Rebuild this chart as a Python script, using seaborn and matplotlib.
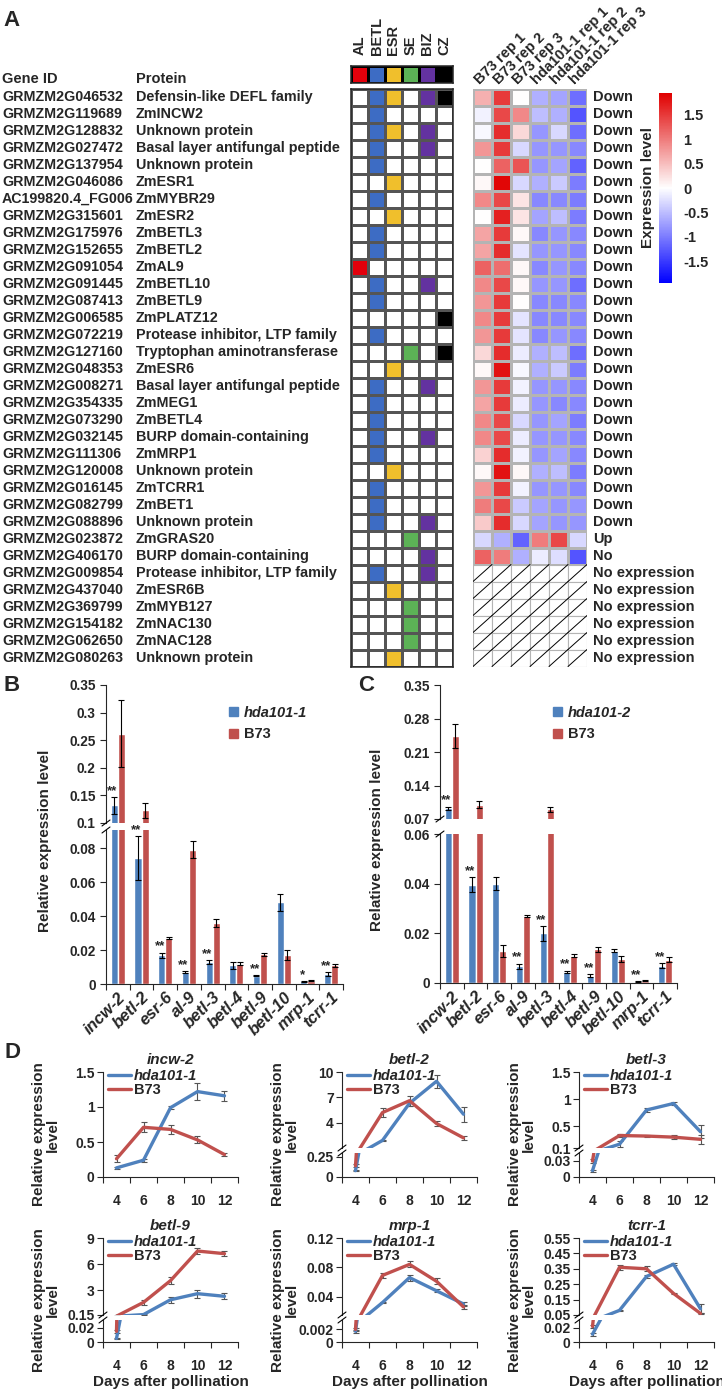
import numpy as np
import pandas as pd
import matplotlib
matplotlib.use('Agg')
import matplotlib.pyplot as plt
from matplotlib.colors import ListedColormap, LinearSegmentedColormap
from matplotlib.patches import Patch, Rectangle
from matplotlib.lines import Line2D
import seaborn as sns

# ---------------- panel A data ----------------
gene_ids = ['GRMZM2G046532', 'GRMZM2G119689', 'GRMZM2G128832', 'GRMZM2G027472',
            'GRMZM2G137954', 'GRMZM2G046086', 'AC199820.4_FG006', 'GRMZM2G315601',
            'GRMZM2G175976', 'GRMZM2G152655', 'GRMZM2G091054', 'GRMZM2G091445',
            'GRMZM2G087413', 'GRMZM2G006585', 'GRMZM2G072219', 'GRMZM2G127160',
            'GRMZM2G048353', 'GRMZM2G008271', 'GRMZM2G354335', 'GRMZM2G073290',
            'GRMZM2G032145', 'GRMZM2G111306', 'GRMZM2G120008', 'GRMZM2G016145',
            'GRMZM2G082799', 'GRMZM2G088896', 'GRMZM2G023872', 'GRMZM2G406170',
            'GRMZM2G009854', 'GRMZM2G437040', 'GRMZM2G369799', 'GRMZM2G154182',
            'GRMZM2G062650', 'GRMZM2G080263']
proteins = ['Defensin-like DEFL family', 'ZmINCW2', 'Unknown protein',
            'Basal layer antifungal peptide', 'Unknown protein', 'ZmESR1', 'ZmMYBR29',
            'ZmESR2', 'ZmBETL3', 'ZmBETL2', 'ZmAL9', 'ZmBETL10', 'ZmBETL9', 'ZmPLATZ12',
            'Protease inhibitor, LTP family', 'Tryptophan aminotransferase', 'ZmESR6',
            'Basal layer antifungal peptide', 'ZmMEG1', 'ZmBETL4', 'BURP domain-containing',
            'ZmMRP1', 'Unknown protein', 'ZmTCRR1', 'ZmBET1', 'Unknown protein', 'ZmGRAS20',
            'BURP domain-containing', 'Protease inhibitor, LTP family', 'ZmESR6B',
            'ZmMYB127', 'ZmNAC130', 'ZmNAC128', 'Unknown protein']
tissues = ['AL', 'BETL', 'ESR', 'SE', 'BIZ', 'CZ']
tissue_colors = ['#e3000b', '#3d6cc4', '#f0bf2c', '#5cb256', '#6332a0', '#000000']
tissue_hits = ['BETL ESR BIZ CZ', 'BETL', 'BETL ESR BIZ', 'BETL BIZ', 'BETL', 'ESR', 'BETL',
               'ESR', 'BETL', 'BETL', 'AL', 'BETL BIZ', 'BETL', 'CZ', 'BETL', 'SE CZ', 'ESR',
               'BETL BIZ', 'BETL', 'BETL', 'BETL BIZ', 'BETL', 'ESR', 'BETL', 'BETL',
               'BETL BIZ', 'SE', 'BIZ', 'BETL BIZ', 'ESR', 'SE', 'SE', 'SE', 'ESR']
samples = ['B73 rep 1', 'B73 rep 2', 'B73 rep 3',
           'hda101-1 rep 1', 'hda101-1 rep 2', 'hda101-1 rep 3']
nan = np.nan
expr = [[0.6, 1.5, 0.0, -0.6, -0.7, -1.1],
        [-0.1, 1.4, 0.9, -0.5, -0.6, -1.3],
        [-0.05, 1.6, 0.3, -0.8, -0.3, -1.1],
        [0.8, 1.5, -0.3, -0.8, -0.8, -0.9],
        [0.0, 1.2, 1.3, -0.8, -0.7, -1.2],
        [0.05, 1.9, -0.3, -0.6, -0.4, -1.0],
        [0.9, 1.4, 0.2, -0.9, -0.9, -1.0],
        [0.0, 1.7, 0.2, -0.7, -0.5, -1.0],
        [0.7, 1.5, 0.05, -0.9, -0.8, -0.9],
        [0.7, 1.6, -0.2, -0.8, -0.8, -0.9],
        [1.2, 1.1, 0.05, -0.9, -0.8, -0.9],
        [0.9, 1.4, 0.05, -0.8, -0.8, -1.1],
        [0.8, 1.5, 0.0, -0.9, -0.9, -0.9],
        [0.9, 1.5, -0.2, -0.9, -0.9, -0.9],
        [0.8, 1.5, -0.2, -0.9, -0.8, -0.9],
        [0.3, 1.6, -0.15, -0.6, -0.5, -1.1],
        [0.05, 1.8, -0.05, -0.6, -0.4, -1.0],
        [0.8, 1.5, -0.1, -0.8, -0.8, -0.9],
        [0.7, 1.5, -0.15, -0.8, -0.9, -0.9],
        [0.9, 1.4, -0.3, -0.8, -0.7, -1.0],
        [0.9, 1.4, -0.15, -0.8, -0.8, -0.9],
        [0.35, 1.6, -0.1, -0.8, -0.7, -0.9],
        [0.05, 1.8, 0.05, -0.6, -0.5, -1.0],
        [0.8, 1.5, -0.1, -0.8, -0.8, -0.9],
        [1.0, 1.4, -0.4, -0.7, -0.8, -0.8],
        [0.4, 1.6, -0.3, -0.7, -0.8, -0.8],
        [-0.3, -0.6, -1.2, 1.0, 1.4, -0.3],
        [1.2, 1.0, -0.6, -0.15, -0.25, -1.3],
        [nan] * 6, [nan] * 6, [nan] * 6, [nan] * 6, [nan] * 6, [nan] * 6]
regulation = ['Down'] * 26 + ['Up', 'No'] + ['No expression'] * 6

# ---------------- panels B / C data ----------------
qpcr_genes = ['incw-2', 'betl-2', 'esr-6', 'al-9', 'betl-3', 'betl-4',
              'betl-9', 'betl-10', 'mrp-1', 'tcrr-1']
b_hda = [0.132, 0.074, 0.017, 0.007, 0.013, 0.011, 0.005, 0.048, 0.0015, 0.006]
b_hda_err = [0.015, 0.013, 0.0015, 0.0005, 0.0012, 0.002, 0.0004, 0.005, 0.0003, 0.001]
b_b73 = [0.262, 0.123, 0.027, 0.079, 0.036, 0.012, 0.0175, 0.017, 0.002, 0.011]
b_b73_err = [0.06, 0.014, 0.0005, 0.005, 0.0025, 0.001, 0.0008, 0.0028, 0.0002, 0.0008]
b_sig = ['**', '**', '**', '**', '**', '', '**', '', '*', '**']

c_hda = [0.092, 0.0395, 0.040, 0.0068, 0.020, 0.0045, 0.003, 0.013, 0.0005, 0.007]
c_hda_err = [0.004, 0.003, 0.0025, 0.001, 0.003, 0.0005, 0.0005, 0.0006, 0.0002, 0.001]
c_b73 = [0.243, 0.100, 0.013, 0.027, 0.090, 0.011, 0.0135, 0.0097, 0.001, 0.0093]
c_b73_err = [0.025, 0.008, 0.0025, 0.0005, 0.005, 0.0005, 0.001, 0.0012, 0.0001, 0.001]
c_sig = ['**', '**', '', '**', '**', '**', '**', '', '**', '**']

# ---------------- panel D data ----------------
days = [4, 6, 8, 10, 12]
incw2_hda = [0.13, 0.24, 0.99, 1.22, 1.16]
incw2_hda_err = [0.02, 0.02, 0.02, 0.12, 0.07]
incw2_b73 = [0.26, 0.71, 0.68, 0.53, 0.32]
incw2_b73_err = [0.05, 0.07, 0.06, 0.05, 0.02]
betl2_hda = [0.08, 1.9, 6.3, 8.9, 5.0]
betl2_hda_err = [0.01, 0.1, 0.3, 0.8, 0.9]
betl2_b73 = [0.14, 5.2, 6.6, 3.9, 2.2]
betl2_b73_err = [0.02, 0.5, 0.6, 0.3, 0.2]
betl3_hda = [0.012, 0.17, 0.8, 0.92, 0.4]
betl3_hda_err = [0.002, 0.05, 0.03, 0.03, 0.12]
betl3_b73 = [0.03, 0.33, 0.32, 0.30, 0.26]
betl3_b73_err = [0.003, 0.02, 0.02, 0.04, 0.08]
betl9_hda = [0.005, 0.2, 1.9, 2.6, 2.3]
betl9_hda_err = [0.001, 0.05, 0.35, 0.45, 0.35]
betl9_b73 = [0.015, 1.6, 4.1, 7.5, 7.2]
betl9_b73_err = [0.002, 0.3, 0.4, 0.35, 0.3]
mrp1_hda = [0.0017, 0.032, 0.066, 0.048, 0.030]
mrp1_hda_err = [0.0002, 0.001, 0.004, 0.002, 0.003]
mrp1_b73 = [0.002, 0.069, 0.084, 0.061, 0.026]
mrp1_b73_err = [0.0002, 0.003, 0.004, 0.004, 0.003]
tcrr1_hda = [0.011, 0.08, 0.30, 0.38, 0.09]
tcrr1_hda_err = [0.002, 0.005, 0.01, 0.005, 0.03]
tcrr1_b73 = [0.022, 0.36, 0.35, 0.19, 0.06]
tcrr1_b73_err = [0.002, 0.015, 0.015, 0.005, 0.005]

BLUE = '#4f81bd'
RED = '#c0504d'

sns.set_style('ticks')
plt.rcParams['font.family'] = ['Liberation Sans', 'DejaVu Sans']
plt.rcParams['font.weight'] = 'bold'
plt.rcParams['axes.labelweight'] = 'bold'
plt.rcParams['axes.linewidth'] = 0.8

W, H = 722, 1394
fig = plt.figure(figsize=(W / 100, H / 100), dpi=100)


def px_axes(x0, y0, x1, y1):
    return fig.add_axes([x0 / W, 1 - y1 / H, (x1 - x0) / W, (y1 - y0) / H])


def fmt(v):
    return f'{v:g}'


def slash(x, y):
    fig.add_artist(Line2D([(x - 4) / W, (x + 4) / W], [1 - (y + 3) / H, 1 - (y - 3) / H],
                          color='black', lw=0.8))


# ================= panel A =================
n = len(gene_ids)
top, rh = 88.5, 17
bot = top + n * rh

ax_txt = px_axes(0, top, 350, bot)
ax_txt.set_xlim(0, 350)
ax_txt.set_ylim(n, 0)
ax_txt.axis('off')
for i in range(n):
    ax_txt.text(2, i + 0.5, gene_ids[i], va='center', fontsize=10.3)
    ax_txt.text(136, i + 0.5, proteins[i], va='center', fontsize=10.4)
ax_txt.text(2, -0.55, 'Gene ID', va='center', fontsize=10.5)
ax_txt.text(136, -0.55, 'Protein', va='center', fontsize=10.5)

cmap_t = ListedColormap(['white'] + tissue_colors)
tissue_mat = np.array([[tissues.index(t) + 1 if t in hits.split() else 0 for t in tissues]
                       for hits in tissue_hits])
ax_t = px_axes(351, top, 453, bot)
sns.heatmap(tissue_mat, cmap=cmap_t, vmin=-0.5, vmax=6.5, cbar=False, linewidths=0.9,
            linecolor='#555555', xticklabels=False, yticklabels=False, ax=ax_t)
for sp in ax_t.spines.values():
    sp.set_visible(True)
    sp.set_linewidth(1.1)

ax_th = px_axes(351, 66, 453, 83)
sns.heatmap(np.arange(1, 7).reshape(1, 6), cmap=cmap_t, vmin=-0.5, vmax=6.5, cbar=False,
            linewidths=0.9, linecolor='black', xticklabels=tissues, yticklabels=False, ax=ax_th)
for sp in ax_th.spines.values():
    sp.set_visible(True)
    sp.set_linewidth(1.1)
ax_th.xaxis.tick_top()
ax_th.tick_params(axis='x', length=0, pad=8, labelsize=10.5)
plt.setp(ax_th.get_xticklabels(), rotation=90, va='bottom')

# expression heatmap
cmap_e = LinearSegmentedColormap.from_list('bwr2', ['#0000ff', '#ffffff', '#e00000'])
expr_df = pd.DataFrame(expr, columns=samples, index=gene_ids)
ax_h = px_axes(473, top, 587, bot)
cax = px_axes(659, 93, 672, 283)
sns.heatmap(expr_df, cmap=cmap_e, vmin=-1.95, vmax=1.95, linewidths=0.8, linecolor='#b4b4b4',
            xticklabels=samples, yticklabels=False, ax=ax_h, cbar_ax=cax,
            cbar_kws={'ticks': [-1.5, -1, -0.5, 0, 0.5, 1, 1.5]})
ax_h.xaxis.tick_top()
ax_h.tick_params(axis='x', length=0, pad=1, labelsize=10.5)
plt.setp(ax_h.get_xticklabels(), rotation=45, ha='left', rotation_mode='anchor')
for i, row in enumerate(expr):
    for j, v in enumerate(row):
        if np.isnan(v):
            ax_h.add_patch(Rectangle((j, i), 1, 1, facecolor='white', edgecolor='#b4b4b4', lw=0.8))
            ax_h.plot([j, j + 1], [i + 1, i], color='black', lw=0.7)
    ax_h.text(6.3, i + 0.5, regulation[i], va='center', fontsize=10.5, clip_on=False)

cax.yaxis.set_ticks_position('right')
cax.set_yticks([-1.5, -1, -0.5, 0, 0.5, 1, 1.5])
cax.set_yticklabels(['-1.5', '-1', '-0.5', '0', '0.5', '1', '1.5'])
cax.tick_params(length=0, labelsize=10.5, pad=8)
cax.set_ylabel('Expression level', fontsize=11, fontweight='bold', labelpad=3)
cax.yaxis.set_label_position('left')

fig.text(12 / W, 1 - 20 / H, 'A', fontsize=16, ha='center', va='center')


# ================= panels B / C =================
def bar_panel(x0, x1, y_top, y_brk_up, y_brk_lo, y_bot, hda, hda_err, b73, b73_err, sig,
              mut, up_lim, up_ticks, lo_lim, lo_ticks, letter, letter_x, ylab_x, leg_x):
    df = pd.DataFrame({'gene': qpcr_genes * 2,
                       'genotype': [mut] * len(qpcr_genes) + ['B73'] * len(qpcr_genes),
                       'value': hda + b73})
    ax_up = px_axes(x0, y_top, x1, y_brk_up)
    ax_lo = px_axes(x0, y_brk_lo, x1, y_bot)
    for ax in (ax_up, ax_lo):
        sns.barplot(data=df, x='gene', y='value', hue='genotype', palette=[BLUE, RED],
                    width=0.6, saturation=1, errorbar=None, legend=False, ax=ax)
        for cont, errs in zip(ax.containers, (hda_err, b73_err)):
            xs = [p.get_x() + p.get_width() / 2 for p in cont]
            hs = [p.get_height() for p in cont]
            ax.errorbar(xs, hs, yerr=errs, fmt='none', ecolor='black', elinewidth=0.8,
                        capsize=2, capthick=0.8)
        ax.set_xlim(-0.5, len(qpcr_genes) - 0.5)
        ax.set_xlabel('')
        ax.set_ylabel('')
        sns.despine(ax=ax)
        ax.tick_params(axis='y', direction='out', length=4, width=0.8, labelsize=9.8)
    ax_up.set_ylim(*up_lim)
    ax_up.set_yticks(up_ticks)
    ax_up.set_yticklabels([fmt(v) for v in up_ticks])
    ax_up.spines['bottom'].set_visible(False)
    ax_up.tick_params(axis='x', length=0, labelbottom=False)
    ax_lo.set_ylim(*lo_lim)
    ax_lo.set_yticks(lo_ticks)
    ax_lo.set_yticklabels([fmt(v) for v in lo_ticks])
    ax_lo.set_xticks(np.arange(len(qpcr_genes) + 1) - 0.5, minor=True)
    ax_lo.tick_params(axis='x', which='minor', direction='out', length=4, width=0.8)
    ax_lo.tick_params(axis='x', which='major', length=0, pad=4)
    ax_lo.set_xticks(range(len(qpcr_genes)))
    ax_lo.set_xticklabels(qpcr_genes, rotation=45, ha='right', rotation_mode='anchor',
                          fontstyle='italic', fontsize=12)
    # significance stars above the mutant bars
    xs = [p.get_x() + p.get_width() / 2 for p in ax_lo.containers[0]]
    for x, v, e, s in zip(xs, hda, hda_err, sig):
        if not s:
            continue
        ax = ax_up if v + e > lo_lim[1] else ax_lo
        ax.text(x - 0.08, v + e, s, ha='center', va='bottom', fontsize=9.5)
    slash(x0, y_brk_up)
    slash(x0, y_brk_lo)
    fig.text(letter_x / W, 1 - y_top / H, letter, fontsize=16, ha='center', va='center')
    fig.text(ylab_x / W, 1 - (y_top + y_bot + 12) / 2 / H, 'Relative expression level',
             rotation=90, ha='center', va='center', fontsize=11)
    handles = [Patch(color=BLUE), Patch(color=RED)]
    leg = ax_up.legend(handles, [mut, 'B73'], loc='upper left',
                       bbox_to_anchor=(leg_x / W, 1 - 706 / H), bbox_transform=fig.transFigure,
                       frameon=False, fontsize=10.5, handlelength=0.6, handleheight=0.6,
                       handletextpad=0.4, labelspacing=0.5, borderpad=0, borderaxespad=0)
    leg.get_texts()[0].set_fontstyle('italic')


bar_panel(106, 343, 685, 823, 830, 984, b_hda, b_hda_err, b_b73, b_b73_err, b_sig,
          'hda101-1', (0.1, 0.35), [0.1, 0.15, 0.2, 0.25, 0.3, 0.35],
          (0, 0.0906), [0, 0.02, 0.04, 0.06, 0.08], 'B', 12, 45, 229)
bar_panel(440, 677, 685, 819, 834, 983, c_hda, c_hda_err, c_b73, c_b73_err, c_sig,
          'hda101-2', (0.07, 0.35), [0.07, 0.14, 0.21, 0.28, 0.35],
          (0, 0.06), [0, 0.02, 0.04, 0.06], 'C', 366, 377, 553)

# ================= panel D =================
d_genes = ['incw-2', 'betl-2', 'betl-3', 'betl-9', 'mrp-1', 'tcrr-1']
d_series = [(incw2_hda, incw2_hda_err, incw2_b73, incw2_b73_err),
            (betl2_hda, betl2_hda_err, betl2_b73, betl2_b73_err),
            (betl3_hda, betl3_hda_err, betl3_b73, betl3_b73_err),
            (betl9_hda, betl9_hda_err, betl9_b73, betl9_b73_err),
            (mrp1_hda, mrp1_hda_err, mrp1_b73, mrp1_b73_err),
            (tcrr1_hda, tcrr1_hda_err, tcrr1_b73, tcrr1_b73_err)]
d_upper = [(0, 1.5, [0, 0.5, 1, 1.5]), (1, 10, [4, 7, 10]), (0.1, 1.5, [0.1, 0.5, 1, 1.5]),
           (0.15, 9, [0.15, 3, 6, 9]), (0.015, 0.12, [0.04, 0.08, 0.12]),
           (0.05, 0.55, [0.05, 0.15, 0.25, 0.35, 0.45, 0.55])]
d_lower = [None, (0.3, [0, 0.25]), (0.045, [0, 0.03]), (0.031, [0, 0.02]),
           (0.0035, [0, 0.002]), (0.031, [0, 0.02])]
col_x = [103, 342, 579]
row_y = [(1072, 1148, 1153, 1177), (1238, 1315, 1320, 1342)]

fig.text(12 / W, 1 - 1052 / H, 'D', fontsize=16, ha='center', va='center')

for k, gene in enumerate(d_genes):
    r, c = divmod(k, 3)
    x0, x1 = col_x[c], col_x[c] + 135
    yt, yb_up, yt_lo, yb = row_y[r]
    hda, hda_err, b73, b73_err = d_series[k]
    df = pd.DataFrame({'day': days * 2, 'value': hda + b73,
                       'genotype': ['hda101-1'] * len(days) + ['B73'] * len(days)})
    if d_lower[k] is None:
        axes = [px_axes(x0, yt, x1, yb)]
    else:
        axes = [px_axes(x0, yt, x1, yb_up), px_axes(x0, yt_lo, x1, yb)]
    for ax in axes:
        ax.errorbar(days, hda, yerr=hda_err, fmt='none', ecolor='#555555', elinewidth=0.8,
                    capsize=2, capthick=0.8, zorder=1)
        ax.errorbar(days, b73, yerr=b73_err, fmt='none', ecolor='#555555', elinewidth=0.8,
                    capsize=2, capthick=0.8, zorder=1)
        sns.lineplot(data=df, x='day', y='value', hue='genotype', palette=[BLUE, RED],
                     linewidth=2.4, errorbar=None, legend=False, ax=ax)
        ax.set_xlim(3, 13)
        ax.set_xlabel('')
        ax.set_ylabel('')
        sns.despine(ax=ax)
        ax.tick_params(axis='y', direction='out', length=4, width=0.8, labelsize=10, pad=2)
    ax_top, ax_bot = axes[0], axes[-1]
    lo, hi, ticks = d_upper[k]
    ax_top.set_ylim(lo, hi)
    ax_top.set_yticks(ticks)
    ax_top.set_yticklabels([fmt(v) for v in ticks])
    if d_lower[k] is not None:
        lhi, lticks = d_lower[k]
        ax_bot.set_ylim(0, lhi)
        ax_bot.set_yticks(lticks)
        ax_bot.set_yticklabels([fmt(v) for v in lticks])
        ax_top.spines['bottom'].set_visible(False)
        ax_top.tick_params(axis='x', which='both', length=0, labelbottom=False)
        slash(x0, yb_up)
        slash(x0, yt_lo)
    ax_bot.set_xticks(days)
    ax_bot.set_xticklabels([str(d) for d in days])
    ax_bot.set_xticks([3, 5, 7, 9, 11, 13], minor=True)
    ax_bot.tick_params(axis='x', which='major', length=0, pad=12, labelsize=10)
    ax_bot.tick_params(axis='x', which='minor', direction='out', length=4, width=0.8)
    handles = [Line2D([], [], color=BLUE, lw=2.4), Line2D([], [], color=RED, lw=2.4)]
    leg = ax_top.legend(handles, ['hda101-1', 'B73'], loc='upper left',
                        bbox_to_anchor=((x0 + 5) / W, 1 - (yt - 3) / H),
                        bbox_transform=fig.transFigure, frameon=False, fontsize=10.5,
                        handlelength=1.6, handletextpad=0.15, labelspacing=0.0,
                        borderpad=0, borderaxespad=0)
    leg.get_texts()[0].set_fontstyle('italic')
    fig.text((x0 + x1) / 2 / W, 1 - (yt - 12) / H, gene, fontstyle='italic', fontsize=11,
             ha='center', va='center')
    fig.text((x0 - 57) / W, 1 - ((yt + yb) / 2 + 10) / H, 'Relative expression\nlevel',
             rotation=90, ha='center', va='center', fontsize=11, linespacing=1.0)
    if r == 1:
        fig.text((x0 + x1) / 2 / W, 1 - 1382 / H, 'Days after pollination', fontsize=11,
                 ha='center', va='center')

fig.savefig('out.png', dpi=100, facecolor='white')
